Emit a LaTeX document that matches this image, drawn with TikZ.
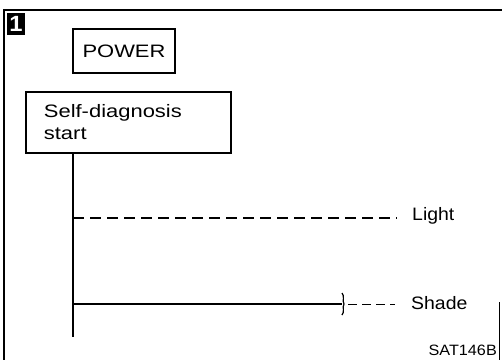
\documentclass[tikz,border=0pt]{standalone}
\usepackage{fontspec}
\newfontfamily\labelfont[FakeStretch=1.08]{Liberation Sans}
\newfontfamily\boxfont[FakeStretch=1.22]{Liberation Sans}
\usepackage{tikz}
\usetikzlibrary{positioning, calc}

\begin{document}
\begin{tikzpicture}[x=1pt, y=-1pt,
    box/.style={draw, line width=1.8pt, inner sep=0pt},
    txt/.style={inner sep=0pt, font=\labelfont\fontsize{18}{20}\selectfont},
    wire/.style={line width=1.9pt}]
  \useasboundingbox (0,0) rectangle (502,360);

  % Frame
  \draw[line width=2.2pt] (502,10) -- (4,10) -- (4,360);
  \draw[line width=0.7pt] (499,302) -- (499,360);
  \node[fill=black, text=white, minimum width=18pt, minimum height=22pt, inner sep=0pt,
        font=\labelfont\bfseries\fontsize{22}{22}\selectfont] (num) at (16,24) {1};

  % Boxes
  \node[box, minimum width=102pt, minimum height=44pt,
        font=\boxfont\fontsize{18}{20}\selectfont] (power) at (124,51) {POWER};
  \node[box, anchor=north west, minimum width=205pt, minimum height=61pt,
        text width=169pt, inner xsep=18pt, align=left,
        font=\boxfont\fontsize{18}{22}\selectfont] (selfdiag) at (25,91) {Self-diagnosis\\start};

  % Trunk and branches
  \coordinate (trunktop) at (73,152);
  \coordinate (trunkend) at (73,337);
  \coordinate (lightend) at (397,218);
  \coordinate (shadebrace) at (342,304);
  \coordinate (shadeend) at (395,304);
  \node[txt, anchor=west] (light) at (412,216) {Light};
  \node[txt, anchor=west] (shade) at (411,303) {Shade};
  \node[txt, anchor=south east, font=\labelfont\fontsize{15}{16}\selectfont] (code) at (497,356) {SAT146B};

  \draw[wire] (trunktop) -- (trunkend);
  \draw[wire, dash pattern=on 11pt off 6pt] (trunktop |- lightend) -- (lightend);
  \draw[wire] (trunktop |- shadebrace) -- (shadebrace);
  % little break mark
  \draw[line width=1.2pt] ($(shadebrace)+(0,-11)$) .. controls ($(shadebrace)+(3,-8)$) and ($(shadebrace)+(0,-3)$) .. ($(shadebrace)+(2,0)$)
        .. controls ($(shadebrace)+(0,3)$) and ($(shadebrace)+(3,8)$) .. ($(shadebrace)+(0,11)$);
  \draw[line width=0.8pt, dash pattern=on 9pt off 5pt] ($(shadebrace)+(6,0)$) -- (shadeend);
\end{tikzpicture}
\end{document}
